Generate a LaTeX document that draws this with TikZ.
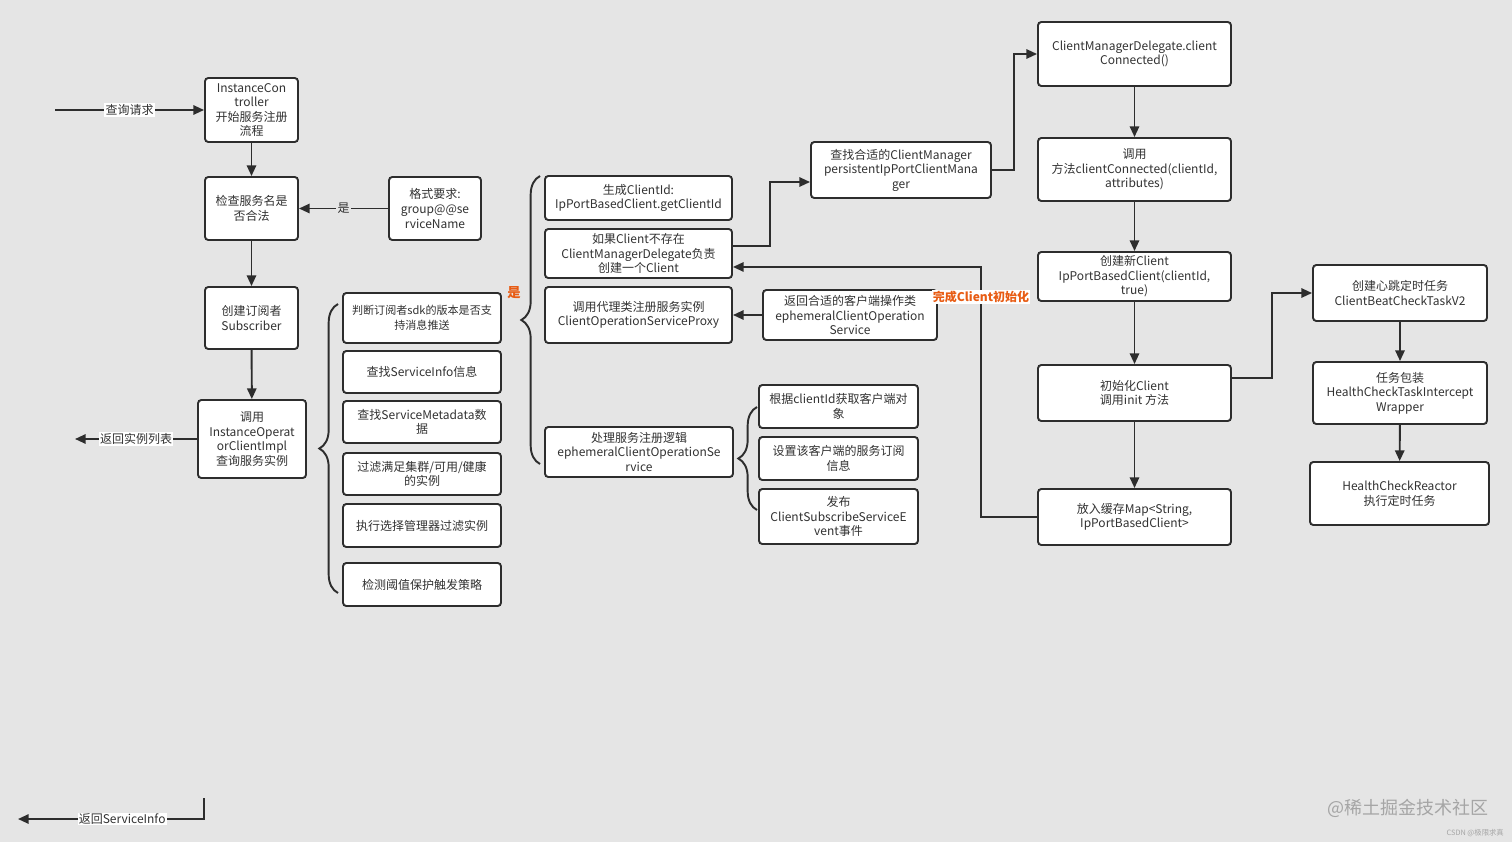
\documentclass[tikz,border=0pt]{standalone}
\usepackage{fontspec}
\setmainfont{Noto Sans CJK SC}
\usetikzlibrary{arrows.meta,decorations.pathreplacing,calc}
\definecolor{bg}{RGB}{229,229,229}
\definecolor{ln}{RGB}{45,45,45}
\definecolor{tx}{RGB}{50,50,50}
\definecolor{org}{RGB}{232,92,20}
\definecolor{wm}{RGB}{165,165,165}
\tikzset{
  box/.style={draw=ln, line width=1.45pt, fill=white, rounded corners=2.5pt, align=center,
    text=tx, inner sep=1pt, font=\fontsize{9}{10.9}\selectfont},
  arr/.style={draw=ln, line width=1.45pt, -{Triangle[length=8pt,width=7pt]}},
  lbl/.style={fill=white, inner sep=0.8pt, text=tx, font=\fontsize{9}{10.9}\selectfont},
  olbl/.style={fill=white, inner sep=0.8pt, text=org, font=\fontsize{9}{10.9}\selectfont\bfseries},
  brc/.style={draw=ln, line width=1.45pt, decorate, decoration={brace, amplitude=14pt}},
}
\newcommand{\pbox}[6]{\node[box, minimum width={(#4-#2)*0.75pt}, minimum height={(#5-#3)*0.75pt}] (#1) at ({(#2+#4)/2},{(#3+#5)/2}) {#6};}
\begin{document}
\begin{tikzpicture}[x=0.75pt, y=-0.75pt]
\fill[bg] (0,0) rectangle (1512,842);
\useasboundingbox (0,0) rectangle (1512,842);

% left column
\pbox{A}{205}{78}{298}{142}{InstanceCon\\troller\\开始服务注册\\流程}
\pbox{B}{205}{177}{298}{240}{检查服务名是\\否合法}
\pbox{C}{389}{177}{481}{240}{格式要求:\\group@@se\\rviceName}
\pbox{D}{205}{287}{298}{349}{创建订阅者\\Subscriber}
\pbox{E}{198}{400}{306}{478}{调用\\InstanceOperat\\orClientImpl\\查询服务实例}

% list
\pbox{L1}{343}{293}{501}{343}{\fontsize{8.3}{10.5}\selectfont 判断订阅者sdk的版本是否支\\\fontsize{8.3}{10.5}\selectfont 持消息推送}
\pbox{L2}{343}{351}{501}{393}{查找ServiceInfo信息}
\pbox{L3}{343}{401}{501}{443}{查找ServiceMetadata数\\据}
\pbox{L4}{343}{453}{501}{495}{过滤满足集群/可用/健康\\的实例}
\pbox{L5}{343}{504}{501}{547}{执行选择管理器过滤实例}
\pbox{L6}{343}{563}{501}{606}{检测阈值保护触发策略}

% middle
\pbox{M1}{545}{176}{732}{220}{生成ClientId:\\IpPortBasedClient.getClientId}
\pbox{M2}{545}{229}{732}{278}{如果Client不存在\\ClientManagerDelegate负责\\创建一个Client}
\pbox{M3}{545}{287}{732}{343}{调用代理类注册服务实例\\ClientOperationServiceProxy}
\pbox{M4}{545}{427}{733}{477}{处理服务注册逻辑\\ephemeralClientOperationSe\\rvice}
\pbox{R}{763}{290}{937}{340}{返回合适的客户端操作类\\ephemeralClientOperation\\Service}
\pbox{P}{811}{142}{991}{198}{查找合适的ClientManager\\persistentIpPortClientMana\\ger}

\pbox{S1}{759}{385}{918}{428}{根据clientId获取客户端对\\象}
\pbox{S2}{759}{437}{918}{480}{设置该客户端的服务订阅\\信息}
\pbox{S3}{759}{489}{918}{544}{发布\\ClientSubscribeServiceE\\vent事件}

% right column
\pbox{Q1}{1038}{22}{1231}{86}{ClientManagerDelegate.client\\Connected()}
\pbox{Q2}{1038}{138}{1231}{201}{调用\\方法clientConnected(clientId,\\attributes)}
\pbox{Q3}{1038}{252}{1231}{301}{创建新Client\\IpPortBasedClient(clientId,\\true)}
\pbox{Q4}{1038}{365}{1231}{421}{初始化Client\\调用init 方法}
\pbox{Q5}{1038}{489}{1231}{545}{放入缓存Map<String,\\IpPortBasedClient>}

\pbox{T1}{1313}{265}{1487}{321}{创建心跳定时任务\\ClientBeatCheckTaskV2}
\pbox{T2}{1313}{362}{1487}{424}{任务包装\\HealthCheckTaskIntercept\\Wrapper}
\pbox{T3}{1310}{462}{1489}{525}{HealthCheckReactor\\执行定时任务}

% braces
\draw[brc] (338,593) -- (338,304);
\draw[brc] (540,464) -- (540,176);
\draw[brc] (757,510) -- (757,407);
\node[olbl, fill=none, font=\fontsize{10}{12}\selectfont\bfseries] (yes2) at (514,293) {是};

% connectors
\coordinate (qin) at (55,110);
\draw[arr] (qin) -- node[lbl]{查询请求} (A.west);
\draw[arr] (A) -- (B);
\draw[arr] (C) -- node[lbl, fill=bg]{是} (B);
\draw[arr] (B) -- (D);
\draw[arr] (D) -- (E);
\coordinate (rout) at (75,439);
\draw[arr] (E.west) -- node[lbl]{返回实例列表} (rout);
\coordinate (s0) at (204,798);
\coordinate (s1) at (18,819);
\draw[arr] (s0) |- node[lbl, pos=0.72]{返回ServiceInfo} (s1);

\draw[arr] ([yshift=5.6pt]M2.east) -- ++(27.75pt,0) |- ([yshift=-9pt]P.west);
\draw[arr] (P.east) -- ++(16.5pt,0) |- (Q1.west);
\draw[arr] (Q1) -- (Q2);
\draw[arr] (Q2) -- (Q3);
\draw[arr] (Q3) -- (Q4);
\draw[arr] (Q4) -- (Q5);
\draw[arr] (Q5.west) -- ++(-42pt,0) |- node[olbl, pos=0.44]{完成Client初始化} ([yshift=-10.1pt]M2.east);
\draw[arr] (R.west) -- (M3.east);
\draw[arr] ([yshift=11.25pt]Q4.east) -- ++(30pt,0) |- (T1.west);
\draw[arr] (T1) -- (T2);
\draw[arr] (T2) -- (T3);

% watermarks
\node[text=wm, font=\fontsize{13.5}{14}\selectfont] (wm1) at (1408,808) {@稀土掘金技术社区};
\node[text=wm, anchor=east, inner sep=0pt, font=\fontsize{5.5}{6}\selectfont] (wm2) at (1504,833) {CSDN @极限求真};
\end{tikzpicture}
\end{document}
